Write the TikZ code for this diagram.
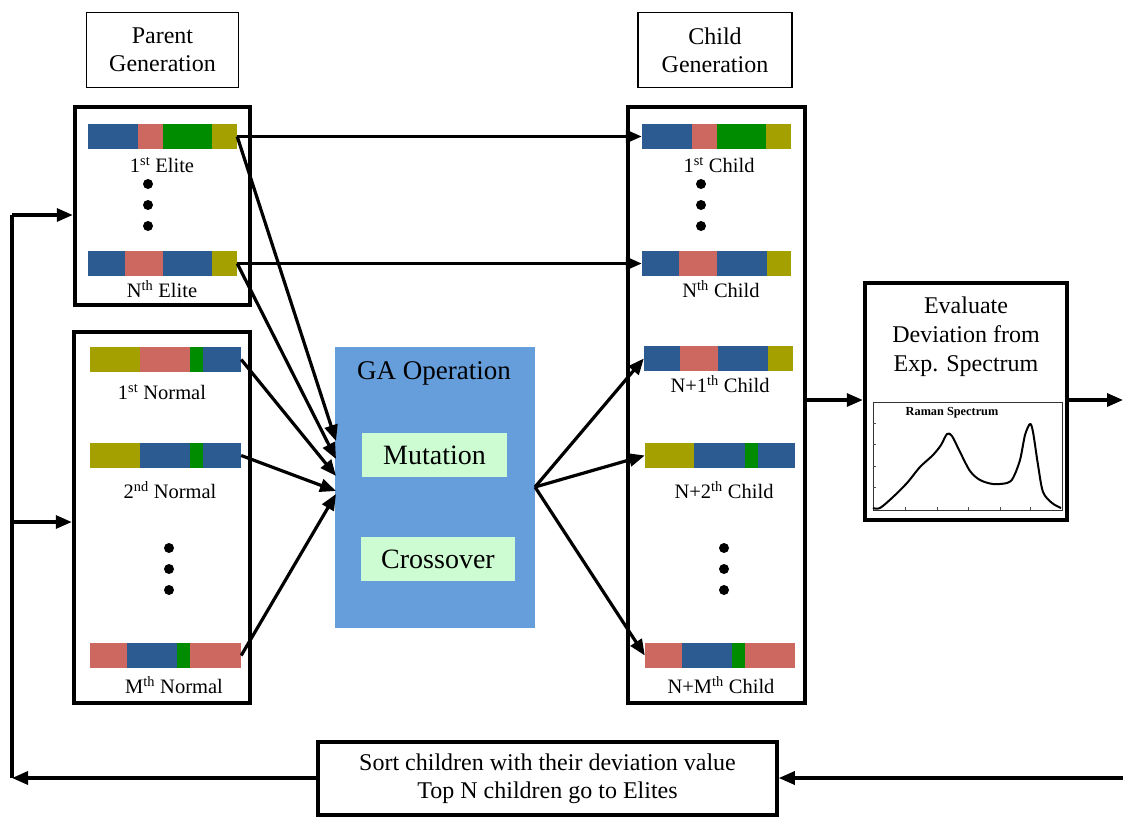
\documentclass[tikz,border=0pt]{standalone}
\usepackage{fontspec}
\setmainfont{Liberation Serif}
\usetikzlibrary{arrows.meta}
\definecolor{gablue}{RGB}{102,157,219}
\definecolor{opgreen}{RGB}{206,252,210}
\definecolor{gblue}{RGB}{43,91,145}
\definecolor{gred}{RGB}{205,104,96}
\definecolor{ggreen}{RGB}{0,140,0}
\definecolor{golive}{RGB}{163,160,0}
\newcommand\chrom[3]{\foreach \a/\b/\c in {#3}{\fill[\c] (\a,#2) rectangle (\b,#2+25);}}
\tikzset{
  conn/.style={line width=3.2pt,-{Triangle[length=16pt,width=13pt]}},
  plainline/.style={line width=3.2pt},
  container/.style={draw,line width=4.5pt,inner sep=0pt},
  titlebox/.style={draw,line width=1.8pt,inner sep=0pt,align=center,font=\fontsize{24}{28}\selectfont},
  barnode/.style={inner sep=0pt,minimum height=25pt},
  lbl/.style={inner sep=0pt,font=\fontsize{20.5}{22}\selectfont},
  dotc/.style={fill=black,circle,inner sep=0pt,minimum size=10pt},
  opbox/.style={fill=opgreen,inner sep=0pt,font=\fontsize{28}{30}\selectfont},
}
\begin{document}
\begin{tikzpicture}[x=1pt,y=-1pt]
\useasboundingbox (0,0) rectangle (1123,816);

% title boxes
\node[titlebox,minimum width=152pt,minimum height=75pt] (pg) at (162.5,50) {Parent\\Generation};
\node[titlebox,minimum width=154pt,minimum height=75pt] (cg) at (715,50) {Child\\Generation};

% containers
\node[container,minimum width=175pt,minimum height=198pt] (elitebox) at (162.5,206) {};
\node[container,minimum width=176pt,minimum height=371pt] (normbox) at (162,517.5) {};
\node[container,minimum width=177pt,minimum height=596pt] (childbox) at (716.5,405) {};

% parent elites
\chrom{e1}{124}{88/138/gblue,138/163/gred,163/212/ggreen,212/237/golive}
\node[barnode,minimum width=149pt] (e1) at (162.5,136.5) {};
\node[lbl] (e1l) at (162,165) {1\textsuperscript{st} Elite};
\node[dotc] (ed1) at (148,184) {};
\node[dotc] (ed2) at (148,205) {};
\node[dotc] (ed3) at (148,226) {};
\chrom{eN}{251}{88/125/gblue,125/163/gred,163/212/gblue,212/237/golive}
\node[barnode,minimum width=149pt] (eN) at (162.5,263.5) {};
\node[lbl] (eNl) at (162,289) {N\textsuperscript{th} Elite};

% parent normals
\chrom{n1}{347}{90/140/golive,140/190/gred,190/203/ggreen,203/241/gblue}
\node[barnode,minimum width=151pt] (n1) at (165.5,359.5) {};
\node[lbl] (n1l) at (162,392) {1\textsuperscript{st} Normal};
\chrom{n2}{443}{90/140/golive,140/190/gblue,190/203/ggreen,203/241/gblue}
\node[barnode,minimum width=151pt] (n2) at (165.5,455.5) {};
\node[lbl] (n2l) at (170,490) {2\textsuperscript{nd} Normal};
\node[dotc] (nd1) at (169,548) {};
\node[dotc] (nd2) at (169,569) {};
\node[dotc] (nd3) at (169,590) {};
\chrom{nM}{643}{90/127/gred,127/177/gblue,177/190/ggreen,190/241/gred}
\node[barnode,minimum width=151pt] (nM) at (165.5,655.5) {};
\node[lbl] (nMl) at (174,685) {M\textsuperscript{th} Normal};

% children
\chrom{c1}{124}{642/692/gblue,692/717/gred,717/766/ggreen,766/791/golive}
\node[barnode,minimum width=149pt] (c1) at (716.5,136.5) {};
\node[lbl] (c1l) at (719,165) {1\textsuperscript{st} Child};
\node[dotc] (cd1) at (701,184) {};
\node[dotc] (cd2) at (701,205) {};
\node[dotc] (cd3) at (701,226) {};
\chrom{cN}{251}{642/679/gblue,679/717/gred,717/767/gblue,767/791/golive}
\node[barnode,minimum width=149pt] (cN) at (716.5,263.5) {};
\node[lbl] (cNl) at (721,289) {N\textsuperscript{th} Child};
\chrom{cA}{346}{644/680/gblue,680/718/gred,718/768/gblue,768/793/golive}
\node[barnode,minimum width=149pt] (cA) at (718.5,358.5) {};
\node[lbl] (cAl) at (720,384) {N+1\textsuperscript{th} Child};
\chrom{cB}{443}{645/694/golive,694/745/gblue,745/758/ggreen,758/795/gblue}
\node[barnode,minimum width=150pt] (cB) at (720,455.5) {};
\node[lbl] (cBl) at (724,490) {N+2\textsuperscript{th} Child};
\node[dotc] (cd4) at (724,548) {};
\node[dotc] (cd5) at (724,569) {};
\node[dotc] (cd6) at (724,590) {};
\chrom{cM}{643}{645/682/gred,682/732/gblue,732/745/ggreen,745/795/gred}
\node[barnode,minimum width=150pt] (cM) at (720,655.5) {};
\node[lbl] (cMl) at (721,685) {N+M\textsuperscript{th} Child};

% GA operation
\node[fill=gablue,inner sep=0pt,minimum width=200pt,minimum height=281pt] (ga) at (435,487.5) {};
\node[inner sep=0pt,font=\fontsize{27}{30}\selectfont] (gat) at (434,373) {GA Operation};
\node[opbox,minimum width=145pt,minimum height=44pt] (mut) at (434.5,455) {Mutation};
\node[opbox,minimum width=154pt,minimum height=44pt] (cro) at (438,559) {Crossover};

\coordinate (t1) at (336,441);
\coordinate (t2) at (336,459);
\coordinate (t3) at (336,476);
\coordinate (t4) at (336,491);
\coordinate (t5) at (336,494);
\coordinate (gs) at (535,487);

% connectors
\draw[conn] (e1.east) -- (c1.west);
\draw[conn] (eN.east) -- (cN.west);
\draw[conn] (e1.east) -- (t1);
\draw[conn] (eN.east) -- (t2);
\draw[conn] (n1.east) -- (t3);
\draw[conn] (n2.east) -- (t4);
\draw[conn] (nM.east) -- (t5);
\draw[conn] (gs) -- (cA.west);
\draw[conn] (gs) -- (cB.west);
\draw[conn] (gs) -- (cM.west);

% evaluate box
\node[draw,line width=4.5pt,inner sep=0pt,minimum width=202pt,minimum height=237pt] (ev) at (966,401.5) {};
\node[inner sep=0pt,align=center,font=\fontsize{24}{29}\selectfont] (evt) at (966,337) {Evaluate\\Deviation from\\Exp. Spectrum};
\node[draw=black!80,line width=1pt,inner sep=0pt,minimum width=189pt,minimum height=108pt] (plot) at (967.5,456) {};
\node[inner sep=0pt,font=\fontsize{12.3}{13}\selectfont\bfseries] (ptitle) at (952,413) {Raman Spectrum};
\foreach \yy in {423,444,466,487} {\draw[line width=0.6pt,black!70] (873,\yy) -- (876,\yy);}
\foreach \xx in {905,937,968,1000,1030} {\draw[line width=0.6pt,black!70] (\xx,510) -- (\xx,507);}
\draw[line width=2pt,line join=round] plot[smooth,tension=0.5] coordinates {(873,508) (880,508) (893,497) (907,483) (920,467) (933,455) (941,445) (947,434) (952,436) (960,452) (970,471) (980,480) (993,484) (1007,483) (1013,478) (1020,460) (1025,435) (1030,424) (1033,432) (1038,465) (1043,492) (1052,503) (1061,508)};

\coordinate (cbo) at (805,400);
\coordinate (rtop) at (1123,400);
\draw[conn] (cbo) -- (ev.west |- cbo);
\draw[conn] (ev.east |- rtop) -- (rtop);

% sort box
\node[draw,line width=3.5pt,inner sep=0pt,align=center,minimum width=459pt,minimum height=73pt,font=\fontsize{24}{28}\selectfont] (sort) at (547.5,778.5) {Sort children with their deviation value\\Top N children go to Elites};
\coordinate (rbot) at (1123,778);
\coordinate (lbot) at (12,778);
\coordinate (lup) at (12,215);
\coordinate (lmid) at (12,522);
\draw[conn] (rbot) -- (sort.east |- rbot);
\draw[conn] (sort.west |- lbot) -- (lbot);
\draw[plainline] (lbot) -- (lup);
\draw[conn] (lup) -- (elitebox.west |- lup);
\draw[conn] (lmid) -- (normbox.west |- lmid);
\end{tikzpicture}
\end{document}
